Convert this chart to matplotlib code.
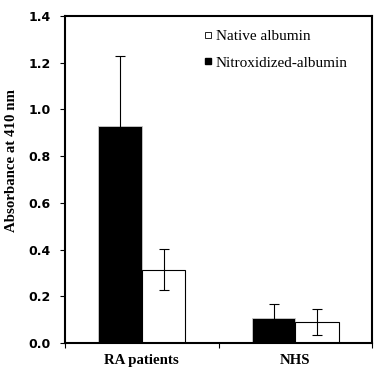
import numpy as np
from matplotlib import pyplot as plt
from matplotlib.lines import Line2D

# data
groups = ["RA patients", "NHS"]
nitroxidized = [0.93, 0.105]
nitroxidized_err = [0.30, 0.062]
native = [0.313, 0.090]
native_err = [0.088, 0.055]

x = np.arange(len(groups))
width = 0.283

fig = plt.figure(figsize=(3.92, 3.70), dpi=100)
ax = fig.add_axes([0.166, 0.073, 0.783, 0.884])

ax.bar(x - width / 2, nitroxidized, width, color="black", edgecolor="#cccccc", linewidth=0.6,
       yerr=nitroxidized_err, error_kw=dict(ecolor="black", elinewidth=0.8, capsize=3.5, capthick=0.8))
ax.bar(x + width / 2, native, width, color="white", edgecolor="black", linewidth=0.8,
       yerr=native_err, error_kw=dict(ecolor="black", elinewidth=0.8, capsize=3.5, capthick=0.8))

ax.set_xlim(-0.5, 1.5)
ax.set_ylim(0, 1.4)
ax.set_yticks(np.arange(0, 1.41, 0.2))
ax.set_yticklabels([f"{v:.1f}" for v in np.arange(0, 1.41, 0.2)],
                   fontfamily="DejaVu Sans", fontweight="bold", fontsize=9)
ax.set_xticks([-0.5, 0.5, 1.5])
ax.set_xticklabels([])
ax.set_xticks(x, minor=True)
ax.set_xticklabels(groups, minor=True, fontfamily="Liberation Serif", fontweight="bold", fontsize=10.7)
ax.tick_params(axis="x", which="minor", length=0, pad=8)
ax.tick_params(axis="x", which="major", length=3.6, width=0.8, direction="out")
ax.tick_params(axis="y", length=3.6, width=0.8, direction="out", pad=7)

for s in ax.spines.values():
    s.set_linewidth(1.5)

ax.set_ylabel("Absorbance at 410 nm", fontfamily="Liberation Serif", fontweight="bold", fontsize=10.7)
ax.yaxis.set_label_coords(-0.153, 0.557)

handles = [
    Line2D([], [], marker="s", linestyle="none", markerfacecolor="white", markeredgecolor="black",
           markersize=3.8, markeredgewidth=0.6),
    Line2D([], [], marker="s", linestyle="none", markerfacecolor="black", markeredgecolor="black",
           markersize=3.8),
]
ax.legend(handles, ["Native albumin", "Nitroxidized-albumin"], loc="upper left",
          bbox_to_anchor=(0.432, 0.978), frameon=False, handlelength=0.5, handletextpad=0.3,
          labelspacing=0.85, borderaxespad=0,
          prop={"family": "Liberation Serif", "size": 11})

fig.savefig("out.png", dpi=100)
